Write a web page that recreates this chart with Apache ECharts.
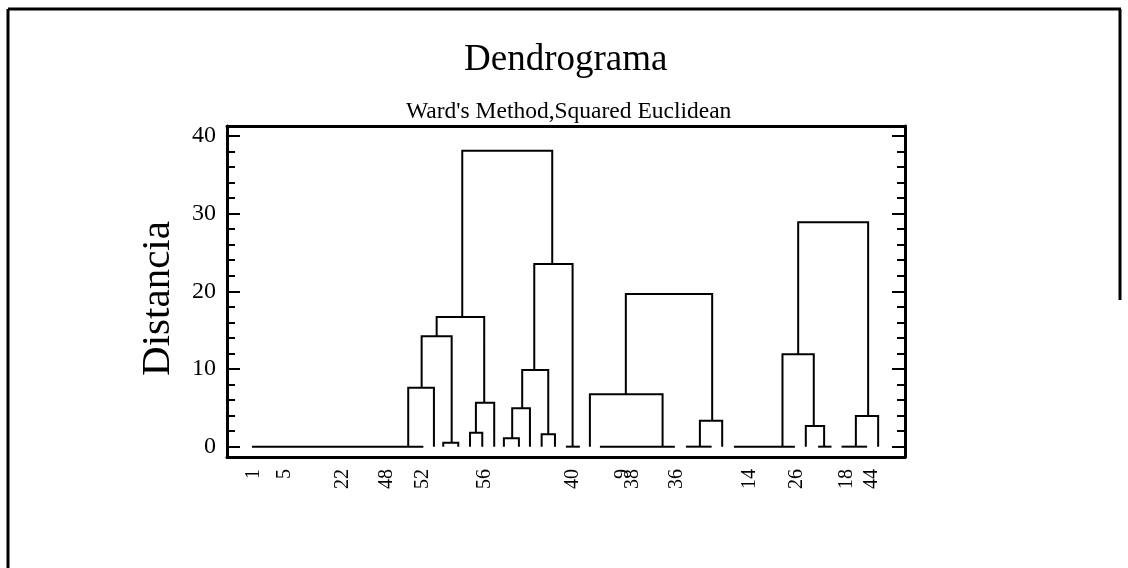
<!DOCTYPE html>
<html>
<head>
<meta charset="utf-8">
<script src="https://cdn.jsdelivr.net/npm/echarts@6/dist/echarts.min.js"></script>
<style>
html,body{margin:0;padding:0;background:#fff;}
#chart{width:1128px;height:568px;}
</style>
</head>
<body>
<div id="chart"></div>
<script>
// ---- data (x in leaf-position units, heights in distance units) ----
// U-shaped merges: [xLeft, xRight, heightLeftChild, heightRightChild, mergeHeight]
var clusterLinks = [
  [18.48, 26.39, 16.7, 23.5, 38.1],
  [16.23, 20.41, 14.2, 5.66, 16.7],
  [14.91, 17.55, 7.6, 0.5, 14.2],
  [13.73, 15.99, 0, 0, 7.6],
  [16.81, 18.13, 0, 0, 0.5],
  [19.68, 21.29, 1.8, 0, 5.66],
  [19.16, 20.24, 0, 0, 1.8],
  [24.81, 28.18, 9.87, 0, 23.5],
  [23.75, 26.04, 4.94, 1.6, 9.87],
  [22.87, 24.43, 1.08, 0, 4.94],
  [22.14, 23.46, 0, 0, 1.08],
  [25.46, 26.63, 0, 0, 1.6],
  [32.86, 40.45, 6.74, 3.35, 19.65],
  [29.70, 36.09, 0, 0, 6.74],
  [39.37, 41.33, 0, 0, 3.35],
  [48.01, 54.16, 11.89, 3.95, 28.88],
  [46.63, 49.38, 0, 2.66, 11.89],
  [48.68, 50.29, 0, 0, 2.66],
  [53.08, 55.04, 0, 0, 3.95]
];
// zero-distance joins: [xStart, xEnd]
var zeroJoins = [
  [0.0, 15.06],
  [27.59, 28.82],
  [30.58, 37.17],
  [38.14, 40.40],
  [42.36, 47.72],
  [49.76, 50.94],
  [51.82, 54.07]
];
var leafLabels = ['1','5','22','48','52','56','40','9','38','36','14','26','18','44'];
var leafLabelPos = [0.18, 2.9, 8.0, 11.86, 15.03, 20.47, 28.2, 32.6, 33.5, 37.35, 43.76, 47.89, 52.3, 54.48];
var yMajorTicks = [0, 10, 20, 30, 40];
var yMinorTicks = [2, 4, 6, 8, 12, 14, 16, 18, 22, 24, 26, 28, 32, 34, 36, 38];
var titleText = 'Dendrograma';
var subtitleText = "Ward's Method,Squared Euclidean";
var yName = 'Distancia';

var FONT = '"Liberation Serif", "Times New Roman", serif';
var chart = echarts.init(document.getElementById('chart'));

function linkRender(params, api) {
  var xl = api.value(0), xr = api.value(1), hl = api.value(2), hr = api.value(3), h = api.value(4);
  var p1 = api.coord([xl, hl]), p2 = api.coord([xl, h]), p3 = api.coord([xr, h]), p4 = api.coord([xr, hr]);
  return {type: 'polyline', shape: {points: [p1, p2, p3, p4]},
          style: {stroke: '#000', lineWidth: 2, fill: null}};
}
function zeroRender(params, api) {
  var a = api.coord([api.value(0), 0]), b = api.coord([api.value(1), 0]);
  return {type: 'line', shape: {x1: a[0], y1: a[1], x2: b[0], y2: b[1]},
          style: {stroke: '#000', lineWidth: 2}};
}

var yMin = -1.33, yMax = 41.28, xMin = -2.2, xMax = 57.4;
var axisLineStyle = {color: '#000', width: 3};
var gridBox = {left: 227, right: 223, top: 126, bottom: 111, containLabel: false};
var option = {
  backgroundColor: '#fff',
  animation: false,
  title: [
    {text: titleText, left: 459, top: 37,
     textStyle: {fontFamily: FONT, fontSize: 37, fontWeight: 'normal', color: '#000'}},
    {text: subtitleText, left: 401, top: 95,
     textStyle: {fontFamily: FONT, fontSize: 23.5, fontWeight: 'normal', color: '#000'}}
  ],
  grid: [gridBox, Object.assign({}, gridBox)],
  xAxis: [
    {type: 'value', gridIndex: 0, position: 'bottom', min: xMin, max: xMax,
     axisLine: {show: true, onZero: false, lineStyle: axisLineStyle},
     axisTick: {show: false}, splitLine: {show: false},
     axisLabel: {customValues: leafLabelPos, rotate: 90, margin: 12,
       fontFamily: FONT, fontSize: 20, color: '#000',
       formatter: function (v) { var i = leafLabelPos.indexOf(v); return i >= 0 ? leafLabels[i] : ''; }}},
    {type: 'value', gridIndex: 1, position: 'top', min: xMin, max: xMax,
     axisLine: {show: true, onZero: false, lineStyle: axisLineStyle},
     axisTick: {show: false}, axisLabel: {show: false}, splitLine: {show: false}}
  ],
  yAxis: [
    {type: 'value', gridIndex: 0, position: 'left', min: yMin, max: yMax,
     name: yName, nameLocation: 'middle', nameRotate: 90, nameGap: 48,
     nameTextStyle: {fontFamily: FONT, fontSize: 41, color: '#000', padding: [0, 14, 0, 0]},
     axisLine: {show: true, onZero: false, lineStyle: axisLineStyle},
     axisTick: {show: true, inside: true, length: 13, customValues: yMajorTicks, lineStyle: {color: '#000', width: 2}},
     axisLabel: {customValues: yMajorTicks, margin: 11, fontFamily: FONT, fontSize: 24, color: '#000'},
     splitLine: {show: false}},
    {type: 'value', gridIndex: 0, position: 'right', min: yMin, max: yMax,
     axisLine: {show: true, onZero: false, lineStyle: axisLineStyle},
     axisTick: {show: true, inside: true, length: 13, customValues: yMajorTicks, lineStyle: {color: '#000', width: 2}},
     axisLabel: {show: false}, splitLine: {show: false}},
    {type: 'value', gridIndex: 1, position: 'left', min: yMin, max: yMax,
     axisLine: {show: false, onZero: false},
     axisTick: {show: true, inside: true, length: 8, customValues: yMinorTicks, lineStyle: {color: '#000', width: 2}},
     axisLabel: {show: false}, splitLine: {show: false}},
    {type: 'value', gridIndex: 1, position: 'right', min: yMin, max: yMax,
     axisLine: {show: false, onZero: false},
     axisTick: {show: true, inside: true, length: 8, customValues: yMinorTicks, lineStyle: {color: '#000', width: 2}},
     axisLabel: {show: false}, splitLine: {show: false}}
  ],
  graphic: [
    {type: 'line', shape: {x1: 8, y1: 9, x2: 1121, y2: 9}, style: {stroke: '#000', lineWidth: 3}, silent: true},
    {type: 'line', shape: {x1: 8, y1: 9, x2: 8, y2: 568}, style: {stroke: '#000', lineWidth: 3}, silent: true},
    {type: 'line', shape: {x1: 1120, y1: 9, x2: 1120, y2: 300}, style: {stroke: '#000', lineWidth: 3}, silent: true}
  ],
  series: [
    {type: 'custom', name: 'links', xAxisIndex: 0, yAxisIndex: 0, renderItem: linkRender,
     data: clusterLinks, clip: false, encode: {x: [0, 1], y: [2, 3, 4]}},
    {type: 'custom', name: 'zero', xAxisIndex: 0, yAxisIndex: 0, renderItem: zeroRender,
     data: zeroJoins, clip: false, encode: {x: [0, 1]}}
  ]
};
chart.setOption(option);
</script>
</body>
</html>
